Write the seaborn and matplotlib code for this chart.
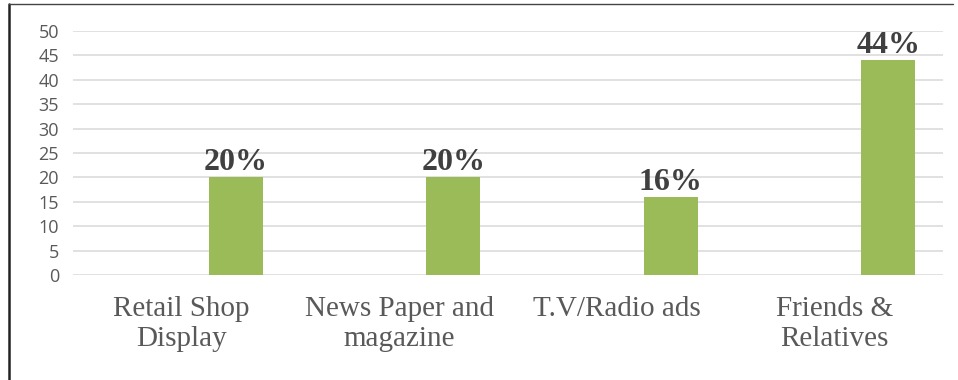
import matplotlib
matplotlib.use("Agg")
import matplotlib.pyplot as plt
from matplotlib.lines import Line2D
import seaborn as sns
import pandas as pd

# Survey results: where respondents first heard about the product
categories = ["Retail Shop\nDisplay", "News Paper and\nmagazine", "T.V/Radio ads", "Friends &\nRelatives"]
series_names = ["Series1", "Series2", "Series3"]
series1 = [0, 0, 0, 0]
series2 = [0, 0, 0, 0]
series3 = [20, 20, 16, 44]
y_ticks = [0, 5, 10, 15, 20, 25, 30, 35, 40, 45, 50]

rows = []
for name, vals in zip(series_names, [series1, series2, series3]):
    for cat, v in zip(categories, vals):
        rows.append({"category": cat, "series": name, "value": v})
df = pd.DataFrame(rows)

sns.set_theme(style="white")
plt.rcParams["font.family"] = ["Open Sans", "DejaVu Sans"]

fig = plt.figure(figsize=(9.58, 3.80), dpi=100)
ax = fig.add_axes([0.0762, 0.2763, 0.9081, 0.6421])

green = "#9BBB59"
sns.barplot(data=df, x="category", y="value", hue="series", order=categories,
            hue_order=series_names, palette=[green, green, green], saturation=1,
            width=0.745, linewidth=0, errorbar=None, legend=False, ax=ax)

ax.set_ylim(0, 50)
ax.set_yticks(y_ticks)
ax.set_xlim(-0.5, len(categories) - 0.5)
ax.yaxis.grid(True, color="#D9D9D9", linewidth=1.1)
ax.set_axisbelow(True)
for s in ax.spines.values():
    s.set_visible(False)
ax.set_xlabel("")
ax.set_ylabel("")
ax.tick_params(axis="y", length=0, pad=10, labelsize=13, labelcolor="#595959")
ax.tick_params(axis="x", length=0, pad=15, labelcolor="#595959")
for lbl in ax.get_xticklabels():
    lbl.set_fontfamily(["Liberation Serif", "DejaVu Serif"])
    lbl.set_fontsize(21)
    lbl.set_linespacing(1.22)

# value labels above the plotted series
last = ax.containers[-1]
for bar, v in zip(last, series3):
    ax.annotate(f"{v}%", (bar.get_x() + bar.get_width() / 2, bar.get_height()),
                xytext=(0, 0), textcoords="offset points", ha="center", va="bottom",
                fontsize=23, fontweight="bold", color="#404040",
                family=["Liberation Serif", "DejaVu Serif"])

# outer chart frame (left and top edges)
fig.add_artist(Line2D([0.0094, 0.0094], [0.0, 0.989], transform=fig.transFigure,
                      color="#222222", linewidth=1.8))
fig.add_artist(Line2D([0.0094, 0.995], [0.989, 0.989], transform=fig.transFigure,
                      color="#444444", linewidth=1.0))

fig.savefig("out.png", dpi=100)
